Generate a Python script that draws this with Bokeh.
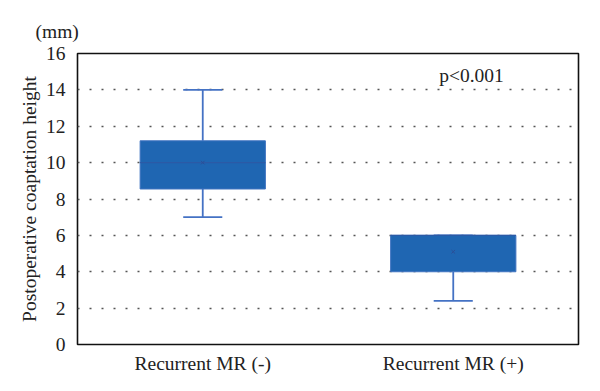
from bokeh.plotting import figure
from bokeh.models import FixedTicker, Label, ColumnDataSource, Title
from bokeh.transform import dodge
from bokeh.embed import file_html
from bokeh.resources import INLINE

categories = ["Recurrent MR (-)", "Recurrent MR (+)"]
lower_whisker = [7.0, 2.4]
q1 = [8.55, 4.0]
median = [10.0, 6.0]
q3 = [11.2, 6.0]
upper_whisker = [14.0, 6.0]
mean = [10.0, 5.1]
y_ticks = [0, 2, 4, 6, 8, 10, 12, 14, 16]
p_text = "p<0.001"
y_label = "Postoperative coaptation height"
unit_text = "(mm)"

FONT = "Liberation Serif"
FS = "19.5px"
box_fill = "#1f66b2"
whisker_col = "#4472c4"

src = ColumnDataSource(dict(x=categories, lw=lower_whisker, q1=q1, med=median,
                            q3=q3, uw=upper_whisker, mean=mean))

p = figure(x_range=categories, y_range=(0, 16), output_backend="svg",
           toolbar_location=None, frame_width=501, frame_height=291,
           min_border_left=77, min_border_top=53, min_border_right=21,
           min_border_bottom=46, background_fill_color="white",
           border_fill_color="white")
p.x_range.range_padding = 0

p.outline_line_color = "#111111"
p.outline_line_width = 1.6

p.yaxis.ticker = FixedTicker(ticks=y_ticks)
p.xgrid.grid_line_color = None
p.ygrid.grid_line_color = "#555555"
p.ygrid.grid_line_dash = "2 10"
p.ygrid.grid_line_width = 1.5

for ax in (p.xaxis[0], p.yaxis[0]):
    ax.axis_line_color = None
    ax.major_tick_line_color = None
    ax.minor_tick_line_color = None
    ax.major_label_text_font = FONT
    ax.major_label_text_font_size = FS
    ax.major_label_text_color = "#222222"

p.yaxis.major_label_standoff = 6
p.xaxis.major_label_standoff = 2
p.yaxis.axis_label = y_label
p.yaxis.axis_label_text_font = FONT
p.yaxis.axis_label_text_font_size = FS
p.yaxis.axis_label_text_font_style = "normal"
p.yaxis.axis_label_text_color = "#222222"
p.yaxis.axis_label_standoff = 3

# unit label above the axis
p.add_layout(Title(text=unit_text, align="left", offset=-42, text_font=FONT,
                   text_font_size=FS, text_font_style="normal",
                   text_color="#222222", standoff=23), "above")

# whiskers (drawn first so the box covers their ends)
p.segment(x0="x", y0="q3", x1="x", y1="uw", source=src, line_color=whisker_col, line_width=1.8)
p.segment(x0="x", y0="q1", x1="x", y1="lw", source=src, line_color=whisker_col, line_width=1.8)
p.segment(x0=dodge("x", -0.078, range=p.x_range), y0="uw",
          x1=dodge("x", 0.078, range=p.x_range), y1="uw",
          source=src, line_color=whisker_col, line_width=1.8)
p.segment(x0=dodge("x", -0.078, range=p.x_range), y0="lw",
          x1=dodge("x", 0.078, range=p.x_range), y1="lw",
          source=src, line_color=whisker_col, line_width=1.8)

# boxes
p.vbar(x="x", bottom="q1", top="q3", width=0.5, source=src,
       fill_color=box_fill, line_color="#3f73c0", line_width=1)
p.segment(x0=dodge("x", -0.25, range=p.x_range), y0="med",
          x1=dodge("x", 0.25, range=p.x_range), y1="med",
          source=src, line_color="#2b5aa6", line_width=1.2)
p.scatter(x="x", y="mean", source=src, marker="x", size=5,
          line_color="#2b4f98", line_width=1)

p.add_layout(Label(x=1.573, y=14.8, text=p_text, text_font=FONT,
                   text_font_size=FS, text_align="center",
                   text_baseline="middle", text_color="#222222"))

open("out.html", "w").write(file_html(p, INLINE))
